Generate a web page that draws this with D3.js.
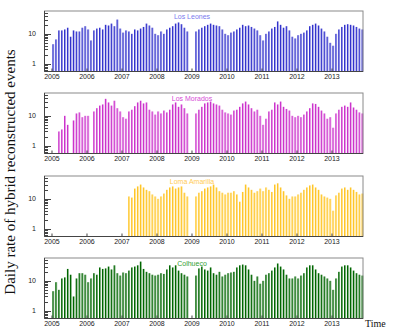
<!DOCTYPE html>
<html>
<head>
<meta charset="utf-8">
<script src="https://cdn.jsdelivr.net/npm/d3@7"></script>
<style>
  body { margin: 0; background: #fff; }
  svg { display: block; }
</style>
</head>
<body>
<svg id="chart" width="407" height="330"></svg>
<script>
// monthly daily-rate values, Jan 2005 .. Nov 2013 (null = no data)
const yearTicks = [2005, 2006, 2007, 2008, 2009, 2010, 2011, 2012, 2013];
const yTicks = [1, 10];
const stationNames = ["Los Leones", "Los Morados", "Loma Amarilla", "Colhueco"];

const leones = [
  4.5, 6.5, 13, 13, 14, 16, 8, 13, 12, 12, 16, 18,
  14, 6, 13, 15, 16, 14, 20, 19, 22, 18, 30, 15,
  11, 13, 12, 10, 14, 13, 15, 17, 22, 19, 16, 10,
  9, 12, 10, 14, 16, 18, 22, 24, 21, 16, 12, null,
  null, 12, 14, 16, 18, 20, 22, 20, 19, 18, 14, 10,
  9, 11, 12, 14, 16, 20, 18, 19, 17, 15, 13, 9,
  6, 10, 12, 15, 17, 26, 20, 16, 18, 13, 8, 7,
  9, 10, 11, 13, 18, 20, 22, 19, 15, 12, 8, 5,
  4, 10, 14, 17, 20, 21, 20, 19, 17, 15, 14
];
const morados = [
  null, null, 3, 3.5, 10, 5, null, 7, 12, 13, 9, 10,
  10, null, 14, 18, 22, 24, 37, 28, 22, 32, 18, 14,
  9, 8, 14, 16, 21, 28, 32, 26, 28, 16, 14, 11,
  14, 12, 15, 13, 16, 24, 28, 20, 24, 18, 12, null,
  null, 12, 16, 20, 26, 28, 30, 26, 24, 22, 16, 13,
  12, 11, 15, 16, 20, 26, 30, 24, 18, 14, 16, 10,
  5, 8, 14, 16, 28, 24, 30, 20, 17, 15, 10, 9,
  10, 9, 11, 14, 18, 26, 25, 20, 15, 12, 8, 9,
  4, 12, 16, 20, 22, 20, 28, 19, 16, 13, 12
];
const amarilla = [
  null, null, null, null, null, null, null, null, null, null, null, null,
  null, null, null, null, null, null, null, null, null, null, null, null,
  null, null, 12, 11, 22, 26, 30, 24, 20, 18, 14, 12,
  10, 12, 15, 20, 24, 26, 22, 24, 26, 16, 12, null,
  null, 12, 16, 18, 22, 24, 26, 30, 24, 18, 16, 14,
  16, 16, 18, 14, 8, 17, 30, 24, 20, 16, 18, 22,
  18, 24, 20, 17, 30, 33, 24, 18, 13, 10, 12, 12,
  14, 16, 20, 24, 28, 30, 24, 20, 14, 12, 11, 10,
  4, 13, 16, 22, 24, 20, 24, 20, 17, 14, 15
];
const colhueco = [
  4.5, 9, 5, 12, 13, 25, 16, 3, 12, 18, 18, 16,
  9, 12, 18, 16, 28, 25, 26, 30, 24, 33, 18, 15,
  19, 18, 22, 28, 30, 33, 44, 25, 20, 18, 16, 15,
  16, 18, 17, 24, 33, 28, 33, 22, 18, 16, 14, null,
  null, 15, 26, 30, 24, 22, 28, 18, 16, 20, 14, 16,
  18, 19, 20, 28, 33, 35, 33, 24, 16, 10, 14, 8,
  10, 16, 18, 22, 28, 38, 30, 24, 16, 12, 12, 14,
  12, 15, 18, 28, 33, 33, 24, 18, 16, 14, 12, 10,
  5, 12, 20, 30, 33, 33, 28, 22, 18, 16, 15
];

const seriesList = [leones, morados, amarilla, colhueco];
const darkColors = ["#3333cc", "#cc33cc", "#ffc629", "#006600"];
const lightColors = ["#9c9ce8", "#e59ae5", "#ffe08c", "#6fa86f"];
const labelColors = ["#7a7aee", "#d64ad6", "#ffcc55", "#33a033"];

const panelTops = [11, 93, 176, 258];
const panelH = 60.5;

const svg = d3.select("#chart");

const x = d3.scaleLinear()
  .domain([2004.786, 2013.886])
  .range([44.5, 363]);

const monthW = x(2005 + 1 / 12) - x(2005);

const drawPanel = (k) => {
  const top = panelTops[k];
  const bottom = top + panelH;
  const y = d3.scaleLog().domain([0.55, 58]).range([bottom, top]);

  const g = svg.append("g");

  const data = seriesList[k].map((v, i) => ({ t: 2005 + i / 12, v }))
    .filter(d => d.v !== null);

  // lighter edge of each monthly cluster
  g.selectAll("rect.light").data(data).enter()
    .append("rect")
    .attr("class", "light")
    .attr("x", d => x(d.t) + monthW * 0.55)
    .attr("width", monthW * 0.22)
    .attr("y", d => y(d.v))
    .attr("height", d => bottom - y(d.v))
    .style("fill", lightColors[k]);

  g.selectAll("rect.dark").data(data).enter()
    .append("rect")
    .attr("class", "dark")
    .attr("x", d => x(d.t) + monthW * 0.12)
    .attr("width", monthW * 0.43)
    .attr("y", d => y(d.v))
    .attr("height", d => bottom - y(d.v))
    .style("fill", darkColors[k]);

  // frame
  g.append("rect")
    .attr("x", 44.5)
    .attr("y", top)
    .attr("width", 363 - 44.5)
    .attr("height", panelH)
    .style("fill", "none")
    .style("stroke", "#8a8a8a")
    .style("stroke-width", 1);

  g.append("line")
    .attr("x1", 44.5).attr("x2", 44.5)
    .attr("y1", top).attr("y2", bottom)
    .style("stroke", "#444");
  g.append("line")
    .attr("x1", 44.5).attr("x2", 363)
    .attr("y1", bottom).attr("y2", bottom)
    .style("stroke", "#444");

  // y ticks, drawn inside the frame like ROOT does
  const minor = [0.6, 0.7, 0.8, 0.9, 2, 3, 4, 5, 6, 7, 8, 9, 20, 30, 40, 50];
  g.selectAll("line.minor").data(minor).enter()
    .append("line")
    .attr("x1", 44.5).attr("x2", 48)
    .attr("y1", d => Math.round(y(d)) + 0.5)
    .attr("y2", d => Math.round(y(d)) + 0.5)
    .style("stroke", "#444");
  g.selectAll("line.major").data(yTicks).enter()
    .append("line")
    .attr("x1", 44.5).attr("x2", 51)
    .attr("y1", d => Math.round(y(d)) + 0.5)
    .attr("y2", d => Math.round(y(d)) + 0.5)
    .style("stroke", "#444");
  g.selectAll("text.ylab").data(yTicks).enter()
    .append("text")
    .attr("x", 36)
    .attr("y", d => y(d) + 2.5)
    .attr("text-anchor", "end")
    .style("font-family", "Liberation Sans, Arial, sans-serif")
    .style("font-size", "7px")
    .style("fill", "#222")
    .text(d => d);

  // x ticks and year labels
  g.selectAll("line.xt").data(yearTicks).enter()
    .append("line")
    .attr("x1", d => x(d)).attr("x2", d => x(d))
    .attr("y1", bottom).attr("y2", bottom - 3)
    .style("stroke", "#444");
  g.selectAll("text.xlab").data(yearTicks).enter()
    .append("text")
    .attr("x", d => x(d))
    .attr("y", bottom + 7.5)
    .attr("text-anchor", "middle")
    .style("font-family", "Liberation Sans, Arial, sans-serif")
    .style("font-size", "7px")
    .style("fill", "#222")
    .text(d => d);

  g.append("text")
    .attr("x", 192)
    .attr("y", top + 8)
    .attr("text-anchor", "middle")
    .style("font-family", "Liberation Sans, Arial, sans-serif")
    .style("font-size", "7px")
    .style("fill", labelColors[k])
    .text(stationNames[k]);
};

stationNames.forEach((s, k) => drawPanel(k));

svg.append("text")
  .attr("transform", "translate(15,172) rotate(-90)")
  .attr("text-anchor", "middle")
  .style("font-family", "Liberation Serif, Times New Roman, serif")
  .style("font-size", "15px")
  .style("fill", "#111")
  .text("Daily rate of hybrid reconstructed events");

svg.append("text")
  .attr("x", 365)
  .attr("y", 327)
  .style("font-family", "Liberation Serif, Times New Roman, serif")
  .style("font-size", "10px")
  .style("fill", "#111")
  .text("Time");
</script>
</body>
</html>
